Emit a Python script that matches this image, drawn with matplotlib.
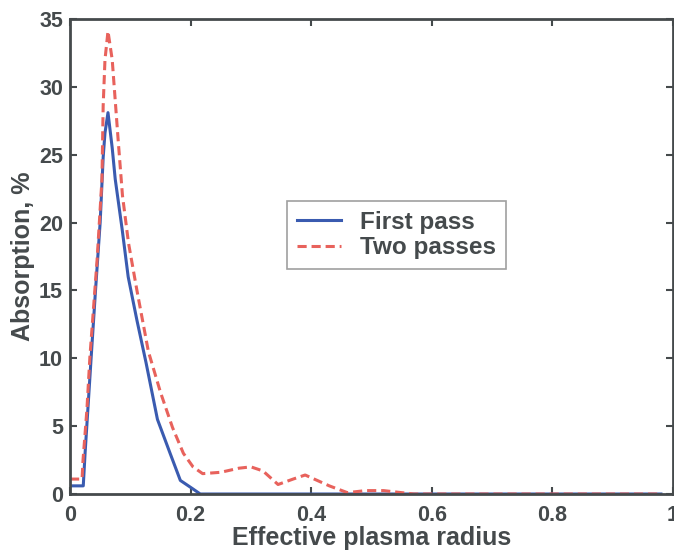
import matplotlib
matplotlib.use('Agg')
import matplotlib.pyplot as plt

# First pass
x_first = [0, 0.022, 0.025, 0.028, 0.035, 0.042, 0.05, 0.055, 0.058, 0.063,
           0.07, 0.075, 0.0865, 0.0965, 0.111, 0.126, 0.145, 0.166, 0.183,
           0.203, 0.216, 0.98]
y_first = [0.6, 0.6, 3.0, 5.1, 10.0, 14.8, 20.0, 24.8, 26.6, 28.1,
           25.5, 23.2, 19.5, 16.0, 12.8, 9.7, 5.5, 3.0, 1.0,
           0.4, 0.0, 0.0]

# Two passes
x_two = [0, 0.02, 0.0216, 0.028, 0.033, 0.045, 0.053, 0.055, 0.058, 0.063,
         0.07, 0.08, 0.087, 0.097, 0.111, 0.13, 0.15, 0.17, 0.188, 0.204,
         0.22, 0.25, 0.28, 0.3, 0.32, 0.345, 0.37, 0.39, 0.41, 0.43, 0.46,
         0.49, 0.52, 0.55, 0.57, 0.98]
y_two = [1.1, 1.1, 2.5, 6.2, 10.1, 17.3, 23.2, 28.6, 32.0, 34.1,
         32.0, 26.0, 22.0, 18.5, 15.0, 10.5, 7.5, 4.9, 3.0, 2.0,
         1.5, 1.6, 1.9, 2.0, 1.7, 0.7, 1.1, 1.4, 1.0, 0.6, 0.1,
         0.25, 0.25, 0.1, 0.0, 0.0]

dark = '#454a4c'
plt.rcParams['font.family'] = ['Liberation Sans', 'DejaVu Sans']
plt.rcParams['font.weight'] = 'bold'
plt.rcParams['axes.labelweight'] = 'bold'

fig = plt.figure(figsize=(6.74, 5.54), dpi=100)
ax = fig.add_axes([70 / 674, 60 / 554, 603 / 674, 475 / 554])

ax.plot(x_first, y_first, color='#3a5bb0', lw=2.2, label='First pass')
ax.plot(x_two, y_two, color='#e8625c', lw=2.2, ls=(0, (3, 1.6)), label='Two passes')

ax.set_xlim(0, 1)
ax.set_ylim(0, 35)
ax.set_xticks([0, 0.2, 0.4, 0.6, 0.8, 1])
ax.set_xticklabels(['0', '0.2', '0.4', '0.6', '0.8', '1'])
ax.set_yticks(range(0, 36, 5))
ax.tick_params(direction='in', length=5, width=1.5, colors=dark, labelsize=15.5,
               top=True, right=True)
ax.tick_params(axis='x', pad=8)
ax.tick_params(axis='y', pad=5)
for s in ax.spines.values():
    s.set_color(dark)
    s.set_linewidth(2)

ax.set_xlabel('Effective plasma radius', fontsize=18, color=dark, labelpad=0)
ax.set_ylabel('Absorption, %', fontsize=18, color=dark, labelpad=3)

leg = ax.legend(loc='upper left', bbox_to_anchor=(0.36, 0.617), fontsize=17.5,
                fancybox=False, edgecolor='#888888', handlelength=1.8,
                borderpad=0.4, labelspacing=0.1, handletextpad=0.8,
                borderaxespad=0)
for t in leg.get_texts():
    t.set_color(dark)
leg.get_frame().set_linewidth(1.2)

fig.savefig('out.png', dpi=100)
